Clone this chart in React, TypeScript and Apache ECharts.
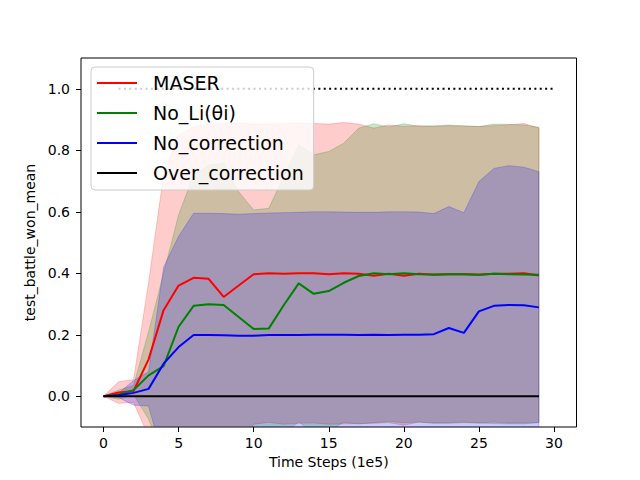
import React, { useEffect, useRef } from "react";
import * as echarts from "echarts";

// ---- data ----
const STEPS = [0, 1, 2, 3, 4, 5, 6, 7, 8, 9, 10, 11, 12, 13, 14, 15, 16, 17, 18, 19, 20, 21, 22, 23, 24, 25, 26, 27, 28, 29];
const X_TICKS = [0, 5, 10, 15, 20, 25, 30];
const Y_TICKS = [0, 0.2, 0.4, 0.6, 0.8, 1.0];
const TARGET_X = [1, 30];
const TARGET_VALUE = 1.0;

const SERIES_NAMES = ["MASER", "No_Li(θi)", "No_correction", "Over_correction"];

const MASER_MEAN = [0, 0.012, 0.017, 0.12, 0.28, 0.36, 0.385, 0.382, 0.323, 0.36, 0.397, 0.4, 0.398, 0.4, 0.4, 0.397, 0.4, 0.398, 0.392, 0.398, 0.392, 0.398, 0.395, 0.397, 0.397, 0.395, 0.398, 0.398, 0.4, 0.393];
const MASER_STD = [0, 0.035, 0.037, 0.25, 0.44, 0.49, 0.49, 0.503, 0.565, 0.528, 0.488, 0.485, 0.489, 0.488, 0.487, 0.488, 0.49, 0.487, 0.48, 0.484, 0.486, 0.482, 0.482, 0.483, 0.481, 0.482, 0.482, 0.485, 0.487, 0.479];

const NOLI_MEAN = [0, 0.005, 0.02, 0.068, 0.098, 0.226, 0.294, 0.299, 0.297, 0.258, 0.219, 0.22, 0.296, 0.367, 0.333, 0.342, 0.369, 0.391, 0.4, 0.397, 0.4, 0.397, 0.396, 0.397, 0.397, 0.395, 0.398, 0.397, 0.396, 0.395];
const NOLI_STD = [0, 0.015, 0.015, 0.142, 0.302, 0.364, 0.426, 0.453, 0.461, 0.407, 0.387, 0.391, 0.418, 0.451, 0.452, 0.454, 0.454, 0.481, 0.486, 0.479, 0.486, 0.481, 0.484, 0.485, 0.483, 0.482, 0.487, 0.487, 0.486, 0.48];

const NOCORR_MEAN = [0, 0.003, 0.011, 0.024, 0.106, 0.16, 0.199, 0.199, 0.198, 0.197, 0.197, 0.199, 0.199, 0.199, 0.2, 0.2, 0.2, 0.199, 0.2, 0.199, 0.2, 0.2, 0.202, 0.222, 0.206, 0.276, 0.294, 0.297, 0.296, 0.289];
const NOCORR_STD = [0, 0.007, 0.04, 0.056, 0.314, 0.36, 0.396, 0.396, 0.396, 0.395, 0.397, 0.397, 0.398, 0.399, 0.4, 0.4, 0.399, 0.399, 0.398, 0.401, 0.4, 0.399, 0.392, 0.395, 0.391, 0.422, 0.447, 0.453, 0.449, 0.441];

const OVER_MEAN = [0, 0, 0, 0, 0, 0, 0, 0, 0, 0, 0, 0, 0, 0, 0, 0, 0, 0, 0, 0, 0, 0, 0, 0, 0, 0, 0, 0, 0, 0];
const OVER_STD = [0, 0, 0, 0, 0, 0, 0, 0, 0, 0, 0, 0, 0, 0, 0, 0, 0, 0, 0, 0, 0, 0, 0, 0, 0, 0, 0, 0, 0, 0];

const LINE_COLORS = ["#ff0000", "#008000", "#0000ff", "#000000"];
const BAND_RGB = ["255,0,0", "0,128,0", "0,0,255", "0,0,0"];

const FONT = "DejaVu Sans";

function bandSeries(idx: number, mean: number[], std: number[]) {
  const rgb = BAND_RGB[idx];
  const rows = STEPS.map((t, i) => [t, mean[i] - std[i], mean[i] + std[i]]);
  return {
    type: "custom",
    name: `band_${idx}`,
    data: rows,
    encode: { x: 0, y: [1, 2] },
    clip: true,
    z: 1,
    silent: true,
    renderItem: (params: any, api: any) => {
      if (params.dataIndex !== 0) return null;
      const top = rows.map((r) => api.coord([r[0], r[2]]));
      const bot = rows.map((r) => api.coord([r[0], r[1]])).reverse();
      const cs = params.coordSys;
      return {
        type: "group",
        clipPath: { type: "rect", shape: { x: cs.x, y: cs.y, width: cs.width, height: cs.height } },
        children: [
          {
            type: "polygon",
            shape: { points: top.concat(bot) },
            style: { fill: `rgba(${rgb},0.2)`, stroke: `rgba(${rgb},0.2)`, lineWidth: 1 },
          },
        ],
      };
    },
  };
}

function meanSeries(idx: number, mean: number[]) {
  return {
    type: "line",
    name: SERIES_NAMES[idx],
    data: STEPS.map((t, i) => [t, mean[i]]),
    symbol: "none",
    lineStyle: { color: LINE_COLORS[idx], width: 2 },
    itemStyle: { color: LINE_COLORS[idx] },
    z: 3 + idx,
    silent: true,
  };
}

export default function App() {
  const ref = useRef<HTMLDivElement>(null);
  useEffect(() => {
    if (!ref.current) return;
    const chart = echarts.init(ref.current, undefined, { renderer: "svg" });
    const means = [MASER_MEAN, NOLI_MEAN, NOCORR_MEAN, OVER_MEAN];
    const stds = [MASER_STD, NOLI_STD, NOCORR_STD, OVER_STD];
    const series: any[] = [];
    for (let i = 0; i < 3; i++) series.push(bandSeries(i, means[i], stds[i]));
    series.push({
      type: "line",
      name: "target",
      data: TARGET_X.map((x) => [x, TARGET_VALUE]),
      symbol: "none",
      lineStyle: { color: "#000", width: 2, type: [2, 3.4] },
      z: 2,
      silent: true,
    });
    for (let i = 0; i < 4; i++) series.push(meanSeries(i, means[i]));

    chart.setOption({
      animation: false,
      backgroundColor: "#ffffff",
      grid: {
        left: 81,
        right: 63.5,
        top: 58,
        bottom: 53,
        show: true,
        borderColor: "#000",
        borderWidth: 1,
        backgroundColor: "transparent",
        outerBoundsMode: "none",
      },
      xAxis: {
        type: "value",
        min: -1.5,
        max: 31.5,
        axisLine: { show: false, onZero: false },
        axisTick: { show: true, inside: false, length: 5, lineStyle: { color: "#000" }, customValues: X_TICKS },
        axisLabel: { customValues: X_TICKS, margin: 9, fontSize: 14, fontFamily: FONT, color: "#000" },
        splitLine: { show: false },
        name: "Time Steps (1e5)",
        nameLocation: "middle",
        nameGap: 27,
        nameTextStyle: { fontSize: 14, fontFamily: FONT, color: "#000" },
      },
      yAxis: {
        type: "value",
        min: -0.1,
        max: 1.1,
        axisLine: { show: false, onZero: false },
        axisTick: { show: true, inside: false, length: 5, lineStyle: { color: "#000" }, customValues: Y_TICKS },
        axisLabel: {
          customValues: Y_TICKS,
          margin: 11,
          fontSize: 14,
          fontFamily: FONT,
          color: "#000",
          formatter: (v: number) => v.toFixed(1),
        },
        splitLine: { show: false },
        name: "test_battle_won_mean",
        nameLocation: "middle",
        nameGap: 39,
        nameTextStyle: { fontSize: 14, fontFamily: FONT, color: "#000" },
      },
      legend: {
        data: SERIES_NAMES,
        orient: "vertical",
        left: 91,
        top: 67,
        icon: "rect",
        itemWidth: 40,
        itemHeight: 2,
        itemGap: 8,
        padding: [5, 10, 6, 6],
        backgroundColor: "rgba(255,255,255,0.8)",
        borderColor: "#cccccc",
        borderWidth: 1,
        borderRadius: 4,
        selectedMode: false,
        textStyle: { fontSize: 19, lineHeight: 22, fontFamily: FONT, color: "#000", padding: [0, 0, 0, 11] },
        z: 10,
      },
      series,
    });
    return () => chart.dispose();
  }, []);
  return (
    <div
      ref={ref}
      style={{ position: "fixed", left: 0, top: 0, width: 640, height: 480, background: "#fff" }}
    />
  );
}
